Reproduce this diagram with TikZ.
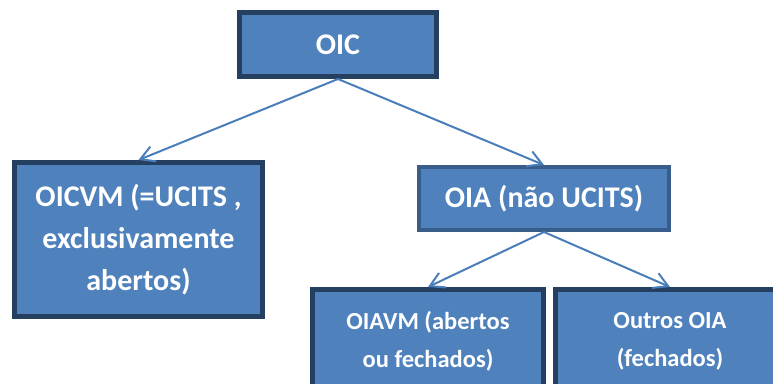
\documentclass[tikz,border=0pt]{standalone}
\usepackage{fontspec}
\setmainfont{Carlito}
\usetikzlibrary{arrows.meta, positioning}
\definecolor{boxfill}{HTML}{4F81BD}
\definecolor{boxline}{HTML}{243F60}
\definecolor{midline}{HTML}{385D8A}
\definecolor{arrowblue}{HTML}{4A7EBB}

\begin{document}
\begin{tikzpicture}[
		x=1pt, y=-1pt,
		every node/.style={draw=boxline, fill=boxfill, text=white, align=center, line width=5pt, inner sep=0pt},
		big/.style={font=\fontsize{30}{42}\selectfont\bfseries},
		small/.style={font=\fontsize{24.5}{38}\selectfont\bfseries},
		link/.style={draw=arrowblue, line width=2pt, -{Straight Barb[length=14pt, width=16pt]}}
		]
	
		\clip (0,0) rectangle (773,383);
		% Denote
		\node[big, minimum width=197pt, minimum height=64pt] at (338,44.5) (oic) {OIC};
		\node[big, minimum width=248pt, minimum height=154pt] at (138.5,239.5) (oicvm) {OICVM (=UCITS ,\\ exclusivamente\\ abertos)};
		\node[big, draw=midline, line width=4pt, minimum width=250pt, minimum height=63pt] at (544,198.5) (oia) {OIA (não UCITS)};
		\node[small, minimum width=231pt, minimum height=103pt] at (428,341) (oiavm) {OIAVM (abertos\\ ou fechados)};
		\node[small, minimum width=229pt, minimum height=103pt] at (670,341) (outros) {Outros OIA\\ (fechados)};
		
		\draw[link] (oic.south) -- (oicvm.north);
		\draw[link] (oic.south) -- (oia.north);
		\draw[link] (oia.south) -- (oiavm.north);
		\draw[link] (oia.south) -- (outros.north);
		
	\end{tikzpicture}
\end{document}
